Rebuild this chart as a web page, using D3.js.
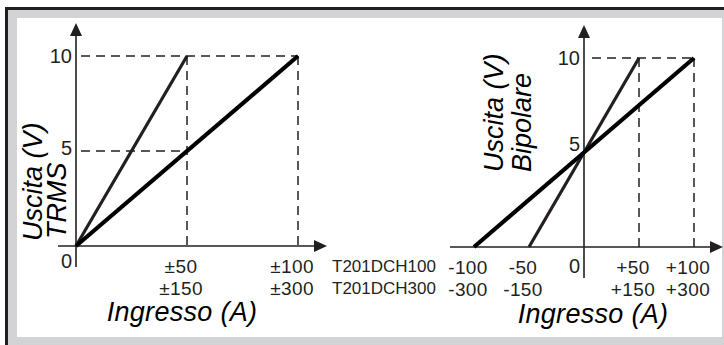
<!DOCTYPE html>
<html>
<head>
<meta charset="utf-8">
<script src="https://cdn.jsdelivr.net/npm/d3@7"></script>
<style>
  html, body { margin: 0; padding: 0; background: #fff; }
  svg { display: block; font-family: 'Liberation Sans', Arial, sans-serif; }
</style>
</head>
<body>
<div id="chart"></div>
<script>
// line end points, in amps (x) and volts (y)
const trmsThin = [[0, 0], [50, 10]];
const trmsThick = [[0, 0], [100, 10]];
const bipolarThin = [[-50, 0], [50, 10]];
const bipolarThick = [[-100, 0], [100, 10]];

const yTicks = [0, 5, 10];
const bipolarYTicks = [0, 5, 10];

const models = ['T201DCH100', 'T201DCH300'];

const trmsTicks = [50, 100];
const trmsLabels100 = ['±50', '±100'];
const trmsLabels300 = ['±150', '±300'];

const bipolarTicks = [-100, -50, 50, 100];
const bipolarLabels100 = ['-100', '-50', '+50', '+100'];
const bipolarLabels300 = ['-300', '-150', '+150', '+300'];

const INK = '#231f20';
const width = 724;
const height = 345;

const svg = d3.select('#chart')
  .append('svg')
  .attr('width', width)
  .attr('height', height);

// frame
svg.append('rect').attr('x', 5).attr('y', 7).attr('width', width).attr('height', height)
  .attr('fill', '#d1d3d4');
svg.append('rect').attr('x', 5).attr('y', 7).attr('width', width).attr('height', 3).attr('fill', INK);
svg.append('rect').attr('x', 5).attr('y', 7).attr('width', 3).attr('height', height).attr('fill', INK);
svg.append('rect').attr('x', 17).attr('y', 18).attr('width', 705).attr('height', 319).attr('fill', '#fff');

function arrow(g, x, y, dir) {
  // dir: 'up' or 'right', (x, y) is the tip
  const pts = dir === 'up'
    ? [[x, y], [x - 6, y + 13], [x + 6, y + 13]]
    : [[x, y], [x - 13, y - 6], [x - 13, y + 6]];
  g.append('path').attr('d', d3.line()(pts) + 'Z').attr('fill', INK);
}

function drawPanel(opts) {
  const { x, y, xTicks, labels100, labels300, thin, thick, hDashed, ticks } = opts;
  const g = svg.append('g');

  // dashed guides
  const dash = g.append('g')
    .attr('stroke', INK).attr('stroke-width', 1.5).attr('stroke-dasharray', '9,6').attr('fill', 'none');
  xTicks.filter(d => d > 0).forEach(d => {
    dash.append('line').attr('x1', x(d)).attr('x2', x(d)).attr('y1', y(10)).attr('y2', y(0));
  });
  hDashed.forEach(h => {
    dash.append('line').attr('x1', x(0) + opts.dashStart).attr('x2', x(h.to)).attr('y1', y(h.v)).attr('y2', y(h.v));
  });

  // axes
  const xr = x.range();
  g.append('line').attr('x1', opts.xAxisStart).attr('x2', xr[1] + 22)
    .attr('y1', y(0)).attr('y2', y(0)).attr('stroke', INK).attr('stroke-width', 1.6);
  g.append('line').attr('x1', x(0)).attr('x2', x(0))
    .attr('y1', y(0) + opts.yAxisBelow).attr('y2', y(10) - 26).attr('stroke', INK).attr('stroke-width', 1.6);
  arrow(g, xr[1] + 29, y(0), 'right');
  arrow(g, x(0), y(10) - 33, 'up');

  // series
  const line = d3.line().x(d => x(d[0])).y(d => y(d[1]));
  g.append('path').attr('d', line(thin)).attr('stroke', INK).attr('stroke-width', 3.2).attr('fill', 'none');
  g.append('path').attr('d', line(thick)).attr('stroke', '#000').attr('stroke-width', 4.2).attr('fill', 'none');

  // y tick labels
  g.selectAll('.ylab').data(ticks).enter().append('text')
    .attr('class', 'ylab')
    .attr('x', x(0) - opts.yLabelGap)
    .attr('y', d => d === 0 ? y(0) + opts.zeroDy : y(d) + opts.yDy[d])
    .attr('text-anchor', 'end')
    .attr('font-size', 20)
    .attr('fill', INK)
    .text(d => d);

  // x tick labels, two rows for the two models
  [labels100, labels300].forEach((labels, row) => {
    g.selectAll('.xlab' + row).data(xTicks).enter().append('text')
      .attr('class', 'xlab' + row)
      .attr('x', d => x(d) - 6)
      .attr('y', y(0) + 27 + row * 22)
      .attr('text-anchor', 'middle')
      .attr('font-size', 19)
      .attr('letter-spacing', 0.4)
      .attr('fill', INK)
      .text((d, i) => labels[i]);
  });

  // axis titles
  g.append('text')
    .attr('x', opts.xTitleX).attr('y', opts.xTitleY)
    .attr('text-anchor', 'middle').attr('font-size', 27).attr('font-style', 'italic')
    .attr('letter-spacing', 0.3)
    .attr('fill', '#000')
    .text('Ingresso (A)');
  opts.yTitle.forEach((t, i) => {
    g.append('text')
      .attr('transform', `translate(${opts.yTitleX[i]},${opts.yTitleEnd[i]}) rotate(-90)`)
      .attr('text-anchor', 'start').attr('font-size', 27).attr('font-style', 'italic')
      .attr('fill', '#000')
      .text(t);
  });
  return g;
}

const xTrms = d3.scaleLinear().domain([0, 100]).range([76, 298]);
const yTrms = d3.scaleLinear().domain([0, 10]).range([246, 56]);
drawPanel({
  x: xTrms, y: yTrms, xTicks: trmsTicks, labels100: trmsLabels100, labels300: trmsLabels300,
  thin: trmsThin, thick: trmsThick, ticks: yTicks,
  hDashed: [{ v: 10, to: 100 }, { v: 5, to: 50 }], dashStart: 5,
  xAxisStart: 58, yAxisBelow: 21, yLabelGap: 4, zeroDy: 22, yDy: { 5: 4, 10: 7 },
  xTitleX: 182, xTitleY: 321, yTitle: ['Uscita (V)', 'TRMS'], yTitleX: [42, 66], yTitleEnd: [241, 239]
});

const xBip = d3.scaleLinear().domain([-100, 100]).range([474, 694]);
const yBip = d3.scaleLinear().domain([0, 10]).range([247, 58]);
drawPanel({
  x: xBip, y: yBip, xTicks: bipolarTicks, labels100: bipolarLabels100, labels300: bipolarLabels300,
  thin: bipolarThin, thick: bipolarThick, ticks: bipolarYTicks,
  hDashed: [{ v: 10, to: 100 }], dashStart: 8,
  xAxisStart: 450, yAxisBelow: 31, yLabelGap: 4, zeroDy: 26, yDy: { 5: -2, 10: 7 },
  xTitleX: 593, xTitleY: 323, yTitle: ['Uscita (V)', 'Bipolare'], yTitleX: [503, 531], yTitleEnd: [172, 172]
});

// model names between the panels
svg.selectAll('.model').data(models).enter().append('text')
  .attr('class', 'model')
  .attr('x', 384)
  .attr('y', (d, i) => yTrms(0) + 26 + i * 22)
  .attr('text-anchor', 'middle')
  .attr('font-size', 17)
  .attr('fill', INK)
  .text(d => d);
</script>
</body>
</html>
